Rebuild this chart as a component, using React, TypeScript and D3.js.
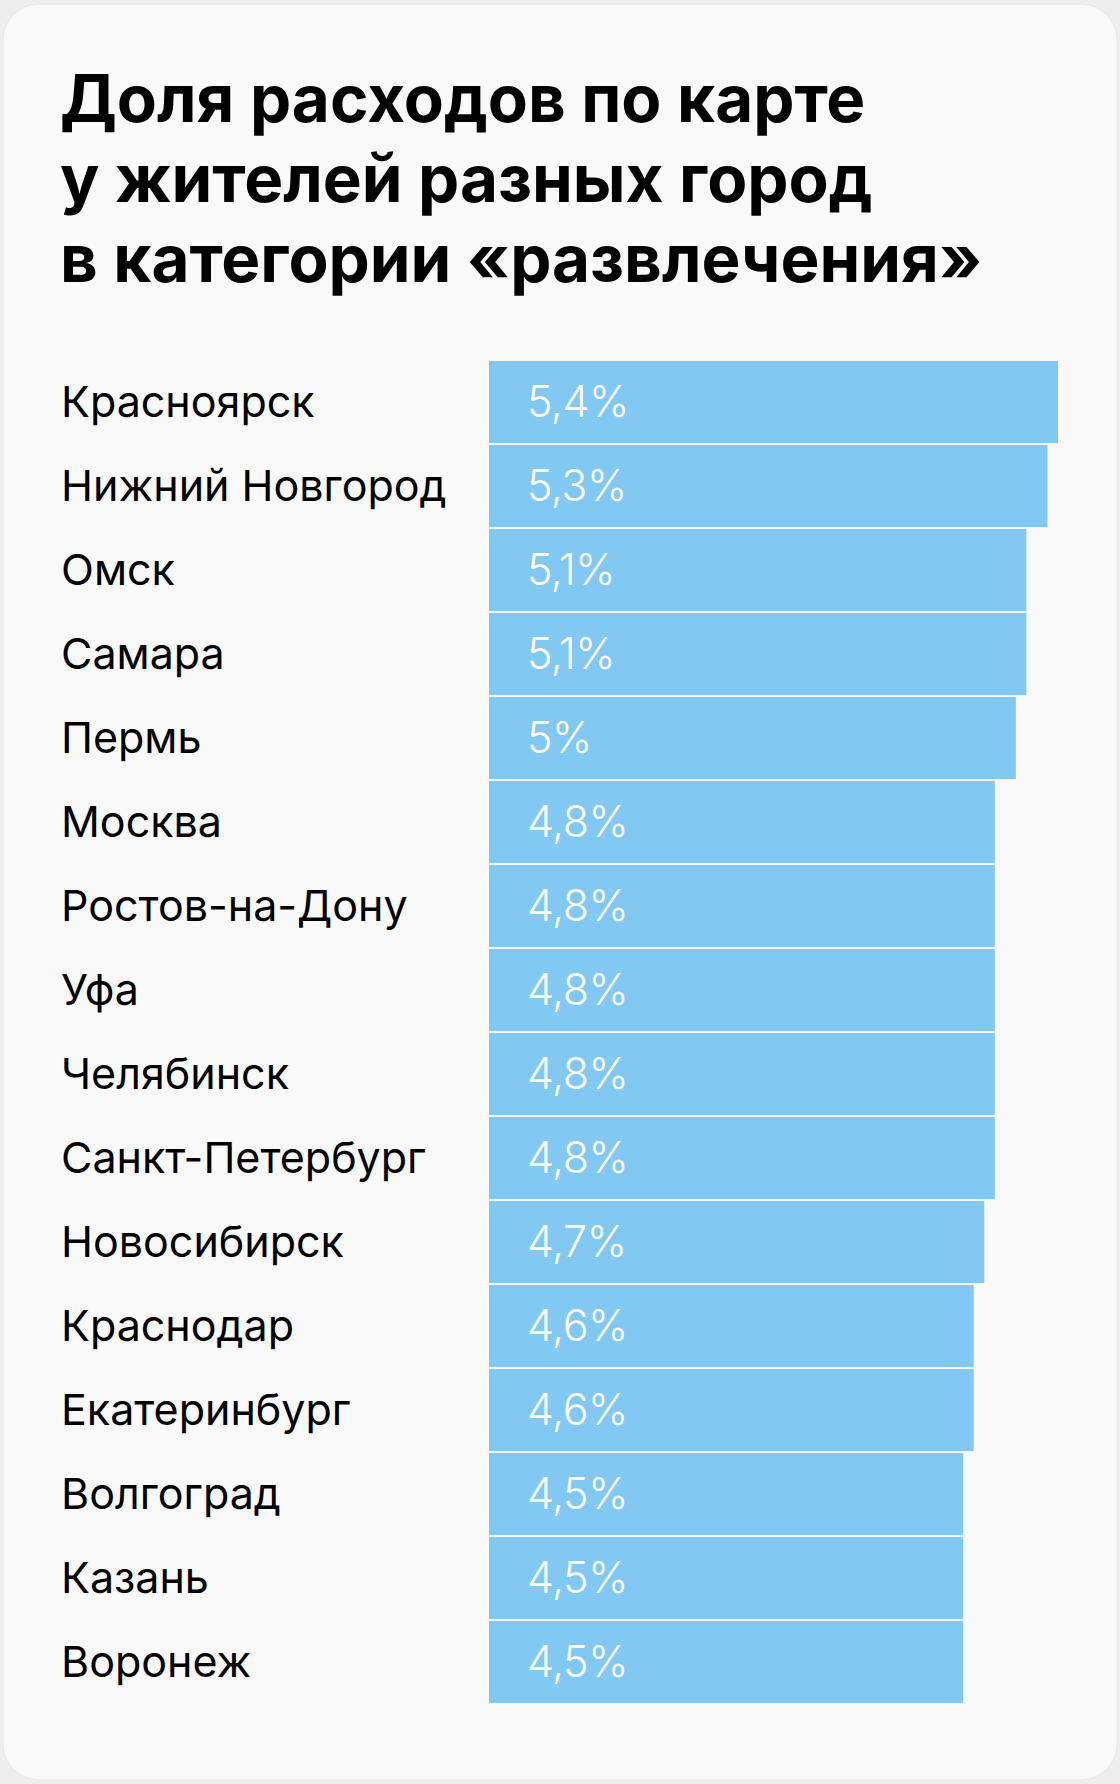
import React from "react";
import * as d3 from "d3";

const titleLines = [
  "Доля расходов по карте",
  "у жителей разных город",
  "в категории «развлечения»",
];
const cities = [
  "Красноярск",
  "Нижний Новгород",
  "Омск",
  "Самара",
  "Пермь",
  "Москва",
  "Ростов-на-Дону",
  "Уфа",
  "Челябинск",
  "Санкт-Петербург",
  "Новосибирск",
  "Краснодар",
  "Екатеринбург",
  "Волгоград",
  "Казань",
  "Воронеж",
];
const values = [5.4, 5.3, 5.1, 5.1, 5.0, 4.8, 4.8, 4.8, 4.8, 4.8, 4.7, 4.6, 4.6, 4.5, 4.5, 4.5];

const W = 1120;
const H = 1784;

export default function App() {
  const x = d3.scaleLinear().domain([0, 5.4]).range([489, 1058]);
  const y = d3.scaleBand().domain(cities).range([361, 361 + 84 * cities.length]).paddingInner(0);
  const fmt = (v: number) => String(v).replace(".", ",") + "%";
  return (
    <div style={{ position: "absolute", left: 0, top: 0 }}>
      <svg width={W} height={H} style={{ display: "block" }}>
        <rect x={0} y={0} width={W} height={H} fill="#eeeeee" />
        <rect x={3} y={4} width={1114} height={1776} rx={36} ry={36} fill="#f9f9f9" stroke="#e6e6e6" strokeWidth={1} />
        {titleLines.map((t, i) => (
          <text
            key={i}
            x={60}
            y={122 + i * 80}
            fontFamily="Inter, Roboto, sans-serif"
            fontWeight={700}
            fontSize={65.5}
            fill="#000"
          >
            {t}
          </text>
        ))}
        {cities.map((c, i) => {
          const yy = y(c)!;
          const bh = y.bandwidth() - 2;
          return (
            <g key={c}>
              <rect x={x(0)} y={yy} width={x(values[i]) - x(0)} height={bh} fill="#81c8f2" />
              <text
                x={61}
                y={yy + bh / 2 + 15}
                fontFamily="Inter, Roboto, sans-serif"
                fontSize={43}
                fill="#000"
              >
                {c}
              </text>
              <text
                x={527}
                y={yy + bh / 2 + 15}
                fontFamily="Inter, Roboto, sans-serif"
                fontWeight={300}
                fontSize={43}
                letterSpacing={-0.5}
                fill="#fff"
              >
                {fmt(values[i])}
              </text>
            </g>
          );
        })}
      </svg>
    </div>
  );
}
